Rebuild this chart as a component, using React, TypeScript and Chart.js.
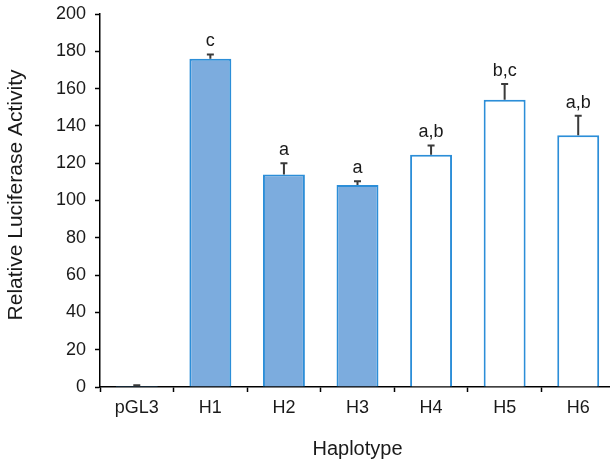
import React, { useEffect, useRef } from "react";
import { Chart, registerables } from "chart.js";
Chart.register(...registerables);

const categories = ["pGL3", "H1", "H2", "H3", "H4", "H5", "H6"];
const means = [0.5, 176, 114, 108.3, 124.5, 154, 135];
const errors = [0.5, 2.3, 6, 2, 5, 8.5, 10.5];
const letters = ["", "c", "a", "a", "a,b", "b,c", "a,b"];
const filled = [true, true, true, true, false, false, false];
const yMin = 0;
const yMax = 200;
const yStep = 20;
const yTitle = "Relative Luciferase Activity";
const xTitle = "Haplotype";

const FILL = "rgb(124,172,222)";
const BORDER = "rgb(44,142,216)";
const TEXT = "#1a1a1a";
const FONT = "'Liberation Sans', Arial, Helvetica, sans-serif";

const errorPlugin = {
  id: "errorLetters",
  afterDatasetsDraw(chart: any) {
    const ctx = chart.ctx;
    const meta = chart.getDatasetMeta(0);
    const ys = chart.scales.y;
    ctx.save();
    meta.data.forEach((bar: any, i: number) => {
      const x = bar.x;
      const yTop = ys.getPixelForValue(means[i]);
      const yErr = ys.getPixelForValue(means[i] + errors[i]);
      ctx.strokeStyle = "#3a3a3a";
      ctx.lineWidth = 2;
      ctx.beginPath();
      ctx.moveTo(x, yTop);
      ctx.lineTo(x, yErr);
      ctx.moveTo(x - 3.5, yErr);
      ctx.lineTo(x + 3.5, yErr);
      ctx.stroke();
      if (letters[i]) {
        ctx.fillStyle = TEXT;
        ctx.font = "18px " + FONT;
        ctx.textAlign = "center";
        ctx.textBaseline = "alphabetic";
        ctx.fillText(letters[i], x, yErr - 8);
      }
    });
    // y-axis title
    const ca = chart.chartArea;
    ctx.translate(16, (ca.top + ca.bottom) / 2 - 5.5);
    ctx.rotate(-Math.PI / 2);
    ctx.fillStyle = TEXT;
    ctx.font = "21px " + FONT;
    ctx.textAlign = "center";
    ctx.textBaseline = "middle";
    ctx.fillText(yTitle, 0, 0);
    ctx.restore();
  },
};

export default function App() {
  const ref = useRef<HTMLCanvasElement | null>(null);
  useEffect(() => {
    document.body.style.margin = "0";
    const chart = new Chart(ref.current as HTMLCanvasElement, {
      type: "bar",
      data: {
        labels: categories,
        datasets: [
          {
            data: means,
            backgroundColor: filled.map((f) => (f ? FILL : "#ffffff")),
            borderColor: BORDER,
            borderWidth: 2,
            categoryPercentage: 1,
            barPercentage: 0.57,
          },
        ],
      },
      options: {
        responsive: false,
        animation: false,
        devicePixelRatio: 1,
        layout: { padding: { top: 14, left: 0, right: 0, bottom: 0 } },
        plugins: { legend: { display: false }, tooltip: { enabled: false } },
        scales: {
          x: {
            offset: true,
            border: { display: true, color: "#000", width: 1.5 },
            grid: {
              display: true,
              offset: true,
              drawOnChartArea: false,
              drawTicks: true,
              tickLength: 5,
              tickColor: "#000",
              tickWidth: 1.5,
            },
            ticks: { color: TEXT, font: { size: 18, family: FONT }, padding: 5 },
            title: {
              display: true,
              text: xTitle,
              color: TEXT,
              font: { size: 20, family: FONT },
              padding: { top: 4, bottom: 0 },
            },
            afterFit: (s: any) => {
              s.height = 74;
              s.paddingLeft = 0;
              s.paddingRight = 0;
            },
          },
          y: {
            min: yMin,
            max: yMax,
            border: { display: true, color: "#000", width: 1.5 },
            grid: {
              display: true,
              drawOnChartArea: false,
              drawTicks: true,
              tickLength: 5,
              tickColor: "#000",
              tickWidth: 1.5,
            },
            ticks: {
              stepSize: yStep,
              color: TEXT,
              font: { size: 18, family: FONT },
              padding: 9,
            },
            title: { display: false },
            afterFit: (s: any) => {
              s.width = 100;
              s.paddingTop = 0;
              s.paddingBottom = 0;
            },
          },
        },
      },
      plugins: [errorPlugin],
    });
    return () => chart.destroy();
  }, []);
  return (
    <div style={{ position: "absolute", left: 0, top: 0, width: 610, height: 461, overflow: "hidden" }}>
      <canvas ref={ref} width={615} height={461} />
    </div>
  );
}
